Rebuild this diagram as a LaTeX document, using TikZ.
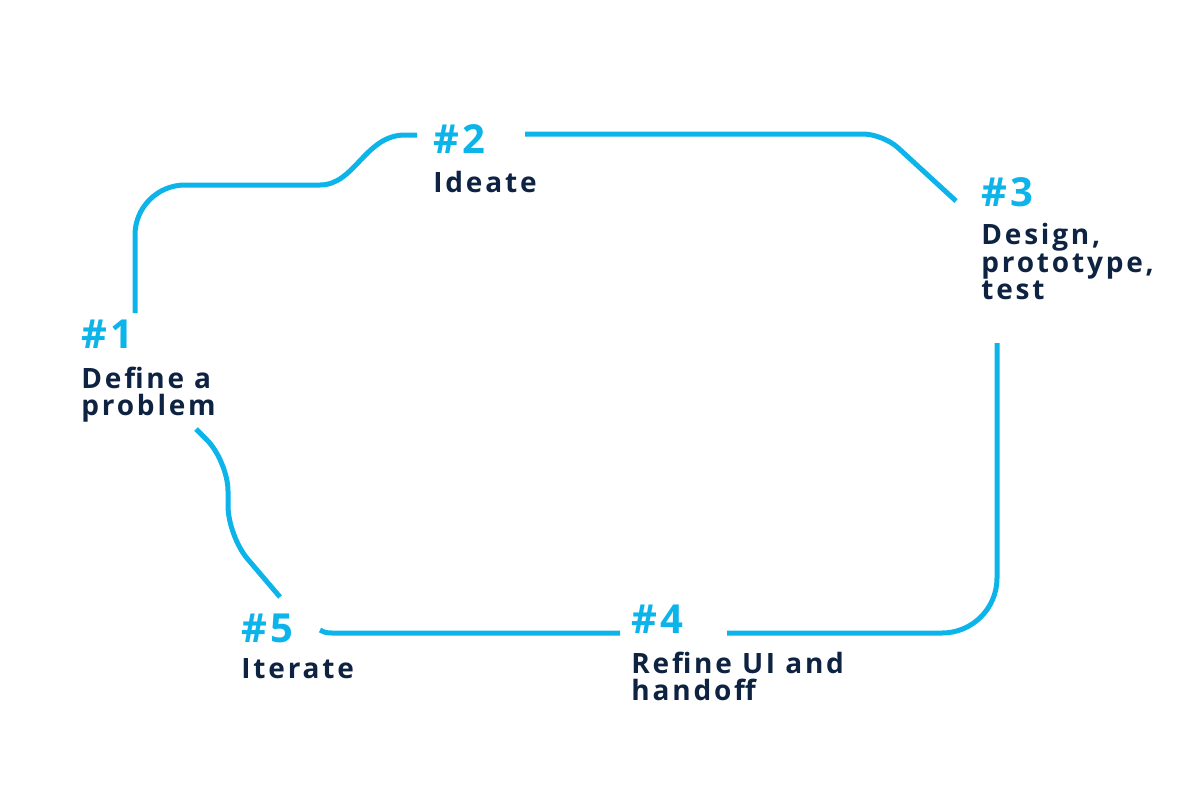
\documentclass[tikz,border=0pt]{standalone}
\usepackage{fontspec}
\setmainfont{Open Sans}[LetterSpace=10]
\newfontfamily\numfont{Open Sans}[LetterSpace=9]
\usetikzlibrary{positioning}
\definecolor{cyclecyan}{HTML}{0DB4EA}
\definecolor{inknavy}{HTML}{0E2341}
\begin{document}
\begin{tikzpicture}[
  x=0.5pt,y=-0.5pt,
  stepnum/.style={anchor=base west,inner sep=0,text=cyclecyan,font=\fontsize{20}{20}\numfont\bfseries},
  steptext/.style={inner sep=0,align=left,text=inknavy,font=\fontsize{14}{13.8}\selectfont\bfseries},
  cycleline/.style={draw=cyclecyan,line width=2.5pt}]
\useasboundingbox (0,0) rectangle (1200,800);
% steps
\node[stepnum] (n1) at (81,348) {\#1};
\node[steptext,below right=9pt and 0pt of n1.south west] (t1) {Define a\\problem};
\node[stepnum] (n2) at (433,153) {\#2};
\node[steptext,below right=8.5pt and 0pt of n2.south west] (t2) {Ideate};
\node[stepnum] (n3) at (981,206) {\#3};
\node[steptext,below right=8pt and 0pt of n3.south west] (t3) {Design,\\prototype,\\test};
\node[stepnum] (n4) at (631,633) {\#4};
\node[steptext,below right=9pt and 0pt of n4.south west] (t4) {Refine UI and\\handoff};
\node[stepnum] (n5) at (241,642) {\#5};
\node[steptext,below right=7.5pt and 0pt of n5.south west] (t5) {Iterate};
% connector ends
\coordinate (a1) at (135,313);
\coordinate (b1) at (417,135);
\coordinate (a2) at (525,134);
\coordinate (b2) at (956,201);
\coordinate (a3) at (997,343);
\coordinate (b3) at (727,633);
\coordinate (a4) at (620,633);
\coordinate (b4) at (320,630);
\coordinate (a5) at (280,597);
\coordinate (b5) at (196,429);
% cycle
\draw[cycleline] (a1) -- (135,235) arc[start angle=180,end angle=270,radius=50]
  -- (320,185) .. controls (355,185) and (365,135) .. (405,135) -- (b1);
\draw[cycleline,rounded corners=10pt] (a2) -- (883,134) -- (b2);
\draw[cycleline,rounded corners=27.5pt] (a3) -- (997,633) -- (b3);
\draw[cycleline] (a4) -- (335,633) .. controls (326,633) .. (b4);
\draw[cycleline,rounded corners=15pt] (a5) -- (228,536) -- (228,461) -- (b5);
\end{tikzpicture}
\end{document}
